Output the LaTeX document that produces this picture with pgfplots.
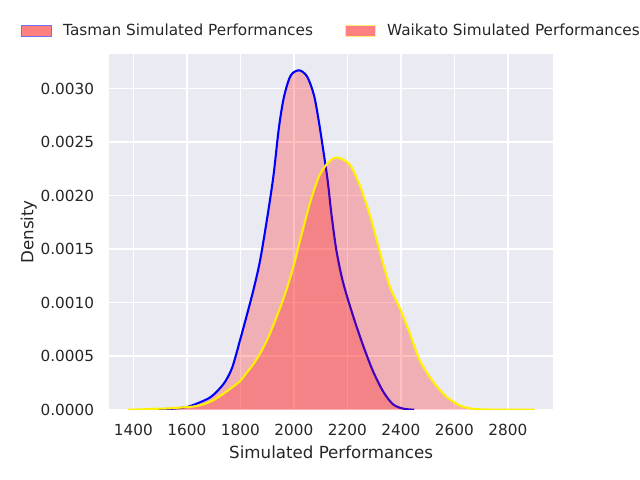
\documentclass[border=0pt]{standalone}
\usepackage{fontspec}
\setmainfont{DejaVu Sans}
\usepackage{pgfplots}
\usepackage{pgfplotstable}
\pgfplotsset{compat=1.18}
\definecolor{bgc}{HTML}{EAEAF2}
\definecolor{txt}{HTML}{262626}
\definecolor{edgeblue}{HTML}{7070F0}
\definecolor{edgeyellow}{HTML}{FFEE70}
\definecolor{legfill}{HTML}{FF8080}
\pgfplotsset{legbox/.style={legend image code/.code={\draw[##1] (0.3pt,-3.9pt) rectangle (22pt,3.9pt);}}}
\pgfplotstableread{
x y
1450 0
1500 0.000004
1550 0.000010
1600 0.000025
1640 0.00006
1690 0.00012
1737 0.00024
1769 0.00039
1800 0.00066
1825 0.00089
1850 0.00113
1875 0.00141
1906 0.00188
1925 0.00221
1944 0.00263
1963 0.00292
1988 0.00312
2020 0.00317
2050 0.00311
2075 0.00294
2093 0.00270
2112 0.00239
2127 0.00213
2140 0.00184
2159 0.00149
2184 0.00119
2221 0.00088
2259 0.00060
2296 0.00036
2334 0.00017
2371 0.00005
2409 0.00001
2450 0
}\tasman
\pgfplotstableread{
x y
1380 0
1425 0.000003
1475 0.000008
1525 0.000012
1575 0.00002
1625 0.00003
1662 0.00005
1700 0.00009
1737 0.00015
1770 0.00021
1800 0.00027
1825 0.00035
1850 0.00043
1875 0.00053
1900 0.00065
1925 0.00080
1950 0.00096
1975 0.00114
2000 0.00135
2021 0.00156
2040 0.00174
2059 0.00192
2078 0.00207
2096 0.00219
2125 0.00230
2150 0.00235
2171 0.00235
2209 0.00229
2246 0.00210
2284 0.00182
2321 0.00148
2359 0.00115
2396 0.00095
2434 0.00071
2471 0.00046
2521 0.00026
2571 0.00012
2621 0.00004
2671 0.000008
2750 0.000001
2900 0
}\waikato
\begin{document}
\begin{tikzpicture}
\path[use as bounding box, clip] (0,0) rectangle (460.8pt,345.6pt);
\begin{axis}[
  at={(78.48pt,50.6pt)}, anchor=south west,
  width=319.9pt, height=256pt, scale only axis,
  xmin=1309, xmax=2970, ymin=0, ymax=0.003321,
  axis background/.style={fill=bgc},
  axis line style={draw=none},
  major tick length=0pt,
  grid=major, grid style={white, line width=1pt},
  xtick={1400,1600,1800,2000,2200,2400,2600,2800},
  ytick={0,0.0005,0.001,0.0015,0.002,0.0025,0.003},
  scaled y ticks=false, scaled x ticks=false,
  /pgf/number format/assume math mode=true,
  xticklabel style={/pgf/number format/1000 sep={}, font=\fontsize{11}{13}\selectfont, text=txt, anchor=base, yshift=-18.4pt},
  yticklabel style={/pgf/number format/.cd, fixed, fixed zerofill, precision=4, /tikz/.cd, font=\fontsize{11}{13}\selectfont, text=txt, anchor=east, inner sep=0pt, xshift=-10.6pt},
  xlabel={Simulated Performances},
  ylabel={Density},
  xlabel style={at={(axis description cs:0.5,-0.137)}, anchor=base, font=\fontsize{12}{14}\selectfont, text=txt},
  ylabel style={at={(axis description cs:-0.1704,0.5)}, anchor=base, rotate=0, font=\fontsize{12}{14}\selectfont, text=txt},
  legend columns=2,
  legend cell align=left,
  legend style={draw=none, fill=none, inner sep=0pt, outer sep=0pt,
    at={(-0.1981,1.0648)}, anchor=west,
    font=\fontsize{11}{13}\selectfont, text=txt,
    nodes={inner sep=0pt},
    /tikz/every odd column/.append style={column sep=7.9pt},
    /tikz/every even column/.append style={column sep=23pt}},
]
\addplot[draw=none, fill=red, fill opacity=0.25, smooth, forget plot] table {\tasman} \closedcycle;
\addplot[blue, line width=1.5pt, smooth, forget plot] table {\tasman};
\addplot[draw=none, fill=red, fill opacity=0.25, smooth, forget plot] table {\waikato} \closedcycle;
\addplot[yellow, line width=1.5pt, smooth, forget plot] table {\waikato};
\addlegendimage{legbox, draw=edgeblue, fill=legfill, line width=0.8pt}
\addlegendentry{Tasman Simulated Performances}
\addlegendimage{legbox, draw=edgeyellow, fill=legfill, line width=0.8pt}
\addlegendentry{Waikato Simulated Performances}
\end{axis}
\end{tikzpicture}
\end{document}
